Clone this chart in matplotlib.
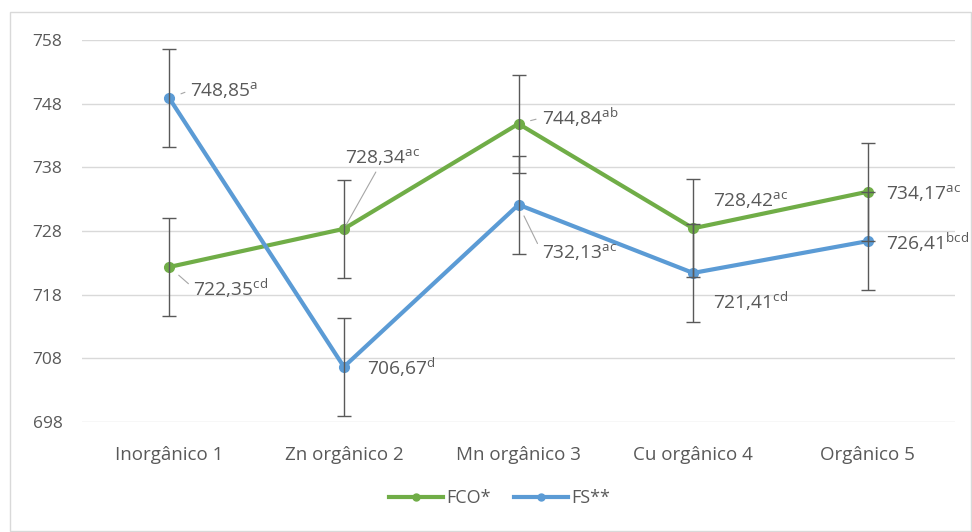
import matplotlib
matplotlib.use("Agg")
import matplotlib.pyplot as plt
from matplotlib.lines import Line2D
from matplotlib.patches import Rectangle

FONT = "Open Sans"
plt.rcParams["font.family"] = [FONT, "DejaVu Sans"]
plt.rcParams["mathtext.fontset"] = "custom"
plt.rcParams["mathtext.rm"] = FONT
plt.rcParams["mathtext.it"] = FONT + ":italic"
plt.rcParams["mathtext.bf"] = FONT + ":bold"

categories = ["Inorgânico 1", "Zn orgânico 2", "Mn orgânico 3", "Cu orgânico 4", "Orgânico 5"]
fco = [722.35, 728.34, 744.84, 728.42, 734.17]
fs = [748.85, 706.67, 732.13, 721.41, 726.41]
fco_err = [7.7, 7.7, 7.7, 7.7, 7.7]
fs_err = [7.7, 7.7, 7.7, 7.7, 7.7]
fco_letters = ["cd", "ac", "ab", "ac", "ac"]
fs_letters = ["a", "d", "ac", "cd", "bcd"]
yticks = [698, 708, 718, 728, 738, 748, 758]

GREEN = "#70AD47"
BLUE = "#5B9BD5"
TEXT = "#595959"
GRID = "#D9D9D9"
ERR = "#595959"

fig = plt.figure(figsize=(9.72, 5.32), dpi=100)
ax = fig.add_axes([82 / 972, 1 - 422 / 532, (955 - 82) / 972, (422 - 40) / 532])

x = list(range(len(categories)))

ax.plot(x, fco, color=GREEN, lw=3.0, marker="o", ms=7, zorder=3)
ax.plot(x, fs, color=BLUE, lw=3.0, marker="o", ms=7, zorder=4)
ax.errorbar(x, fco, yerr=fco_err, fmt="none", ecolor=ERR, elinewidth=1.0,
            capsize=5, capthick=1.0, zorder=5)
ax.errorbar(x, fs, yerr=fs_err, fmt="none", ecolor=ERR, elinewidth=1.0,
            capsize=5, capthick=1.0, zorder=5)

ax.set_xlim(-0.5, len(categories) - 0.5)
ax.set_ylim(yticks[0], yticks[-1])
ax.set_yticks(yticks)
ax.set_xticks(x)
ax.set_xticklabels(categories, fontsize=13.5)
ax.grid(axis="y", color=GRID, lw=1.0)
ax.set_axisbelow(True)
for s in ax.spines.values():
    s.set_visible(False)
ax.tick_params(axis="both", length=0, colors=TEXT)
ax.tick_params(axis="y", labelsize=12.5, pad=14)
ax.tick_params(axis="x", pad=17)


def fmt(v, sup):
    return f"{v:.2f}".replace(".", ",") + r"$^{\mathrm{" + sup + "}}$"


# data labels: offsets in pixels from each point, with optional leader line
lead = dict(arrowstyle="-", color="#A6A6A6", lw=0.8)
fco_off = [(24, -21), (1, 72), (23, 6), (20, 28), (18, -1)]
fs_off = [(21, 8), (23, -1), (23, -47), (20, -28), (18, -1)]
fco_lead = [True, True, True, False, False]
fs_lead = [True, False, True, False, False]

for vals, lets, offs, leads in [(fco, fco_letters, fco_off, fco_lead),
                                (fs, fs_letters, fs_off, fs_lead)]:
    for i, (v, l, o, ld) in enumerate(zip(vals, lets, offs, leads)):
        kw = {}
        if ld:
            if o[1] > 40:
                kw["arrowprops"] = dict(lead, shrinkA=2, shrinkB=3, relpos=(0.45, 0.0))
            else:
                kw["arrowprops"] = dict(lead, shrinkA=2, shrinkB=9, relpos=(0.0, 0.5))
        ax.annotate(fmt(v, l), xy=(i, v), xytext=o, textcoords="offset pixels",
                    ha="left", va="center", fontsize=13.8, color=TEXT, zorder=6, **kw)

handles = [Line2D([], [], color=GREEN, lw=3.0, marker="o", ms=5),
           Line2D([], [], color=BLUE, lw=3.0, marker="o", ms=5)]
fig.legend(handles, ["FCO*", "FS**"], loc="center",
           bbox_to_anchor=(0.5 + 13.5 / 972, 1 - 498 / 532),
           ncol=2, frameon=False, fontsize=13, labelcolor=TEXT, handlelength=3.0,
           handletextpad=0.15, columnspacing=1.3)

fig.patches.append(Rectangle((10 / 972, 1 / 532), 961 / 972, 519 / 532,
                             transform=fig.transFigure, fill=False,
                             edgecolor="#D9D9D9", lw=1.0))

fig.savefig("out.png", dpi=100)
